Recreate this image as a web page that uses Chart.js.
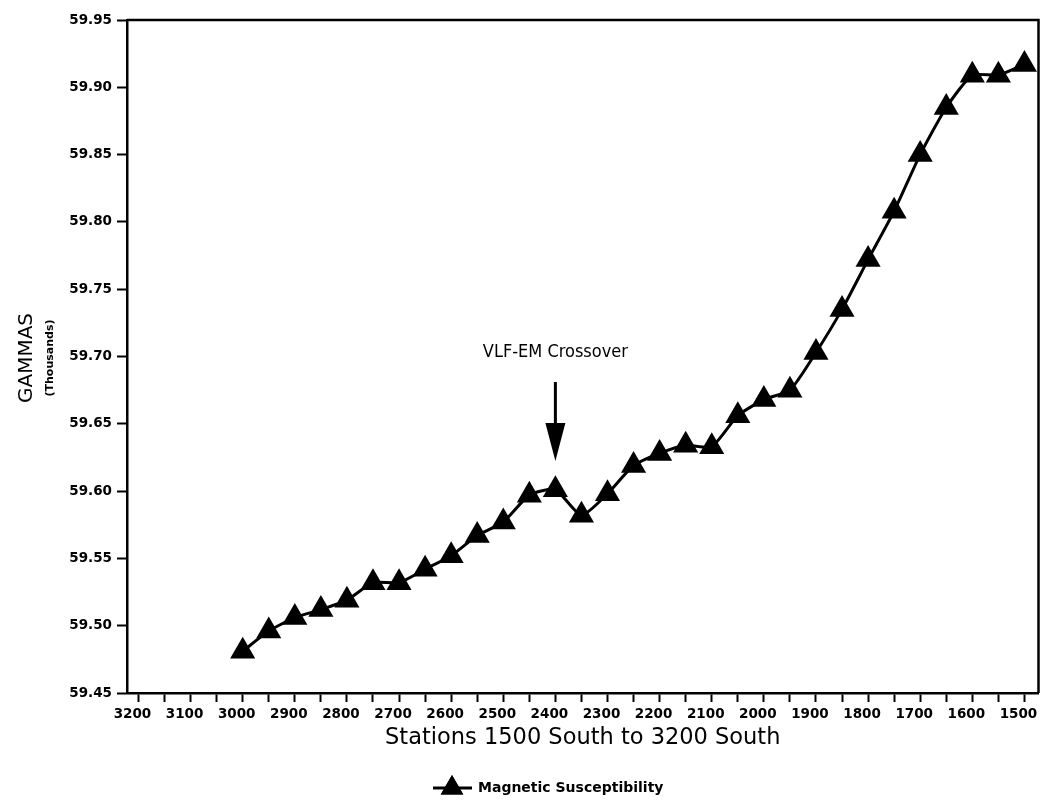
<!DOCTYPE html>
<html>
<head>
<meta charset="utf-8">
<script src="https://cdn.jsdelivr.net/npm/chart.js@4.4.0/dist/chart.umd.min.js"></script>
<style>
  html, body { margin: 0; padding: 0; background: #fff; }
</style>
</head>
<body>
<canvas id="chart" width="1053" height="804"></canvas>
<script>
// Magnetometer profile, stations 1500 S to 3200 S
const stations = [3000, 2950, 2900, 2850, 2800, 2750, 2700, 2650, 2600, 2550, 2500,
  2450, 2400, 2350, 2300, 2250, 2200, 2150, 2100, 2050, 2000, 1950, 1900, 1850,
  1800, 1750, 1700, 1650, 1600, 1550, 1500];
const gammas = [59.481, 59.496, 59.506, 59.512, 59.519, 59.532, 59.532, 59.542, 59.552,
  59.567, 59.577, 59.597, 59.601, 59.582, 59.598, 59.619, 59.628, 59.634, 59.633,
  59.656, 59.668, 59.675, 59.703, 59.735, 59.772, 59.808, 59.850, 59.885, 59.909,
  59.909, 59.917];
const xTicks = [3200, 3150, 3100, 3050, 3000, 2950, 2900, 2850, 2800, 2750, 2700, 2650,
  2600, 2550, 2500, 2450, 2400, 2350, 2300, 2250, 2200, 2150, 2100, 2050, 2000, 1950,
  1900, 1850, 1800, 1750, 1700, 1650, 1600, 1550, 1500];
const yTicks = [59.45, 59.50, 59.55, 59.60, 59.65, 59.70, 59.75, 59.80, 59.85, 59.90, 59.95];

const seriesName = "Magnetic Susceptibility";
const arrowStation = 2400;
const arrowText = "VLF-EM Crossover";

const FONT = "DejaVu Sans";

// box round the plot, crossover arrow, y title and legend
const extras = {
  id: "extras",
  afterDatasetsDraw(chart) {
    const { ctx, chartArea: a, scales } = chart;
    ctx.save();
    ctx.strokeStyle = "#000";
    ctx.lineWidth = 2.5;
    ctx.beginPath();
    ctx.moveTo(a.left, a.top);
    ctx.lineTo(a.right, a.top);
    ctx.lineTo(a.right, a.bottom);
    ctx.stroke();

    // crossover arrow
    const ax = scales.x.getPixelForValue(arrowStation);
    ctx.fillStyle = "#000";
    ctx.font = "18px 'DejaVu Sans Condensed'";
    ctx.textAlign = "center";
    ctx.textBaseline = "middle";
    ctx.fillText(arrowText, ax, 352);
    ctx.lineWidth = 3;
    ctx.beginPath();
    ctx.moveTo(ax, 382);
    ctx.lineTo(ax, 426);
    ctx.stroke();
    ctx.beginPath();
    ctx.moveTo(ax - 10, 423);
    ctx.lineTo(ax + 10, 423);
    ctx.lineTo(ax, 461);
    ctx.closePath();
    ctx.fill();

    // y title
    ctx.save();
    ctx.translate(27, 358);
    ctx.rotate(-Math.PI / 2);
    ctx.font = "20px " + FONT;
    ctx.fillText("GAMMAS", 0, 0);
    ctx.font = "bold 11px " + FONT;
    ctx.fillText("(Thousands)", 0, 23);
    ctx.restore();

    // legend
    const ly = 788;
    ctx.lineWidth = 3;
    ctx.beginPath();
    ctx.moveTo(433, ly);
    ctx.lineTo(472, ly);
    ctx.stroke();
    Chart.helpers.drawPoint(ctx, { pointStyle: "triangle", radius: 13, borderWidth: 0 }, 452, ly);
    ctx.fill();
    ctx.font = "bold 14px " + FONT;
    ctx.textAlign = "left";
    ctx.fillText(seriesName, 478, ly);
    ctx.restore();
  }
};

new Chart(document.getElementById("chart"), {
  type: "line",
  data: {
    datasets: [{
      label: seriesName,
      data: stations.map((s, i) => ({ x: s, y: gammas[i] })),
      borderColor: "#000",
      backgroundColor: "#000",
      borderWidth: 3,
      tension: 0.2,
      pointStyle: "triangle",
      pointRadius: 14.5,
      pointBorderWidth: 0,
      pointBackgroundColor: "#000",
      clip: false
    }]
  },
  options: {
    responsive: false,
    animation: false,
    layout: { padding: { top: 20, right: 11, bottom: 0, left: 0 } },
    plugins: {
      legend: { display: false },
      tooltip: { enabled: false }
    },
    scales: {
      x: {
        type: "linear",
        reverse: true,
        min: 1473,
        max: 3222,
        afterBuildTicks: (scale) => { scale.ticks = xTicks.map(v => ({ value: v })); },
        afterFit: (scale) => { scale.height = 111; },
        grid: { drawOnChartArea: false, drawTicks: true, tickLength: 9, tickWidth: 2, tickColor: "#000" },
        border: { display: true, color: "#000", width: 2.5 },
        ticks: {
          autoSkip: false,
          maxRotation: 0,
          padding: 4,
          labelOffset: -6,
          color: "#000",
          font: { family: FONT, size: 13.5, weight: "bold" },
          callback: (v) => (v % 100 === 0 ? String(v) : "")
        },
        title: {
          display: true,
          text: "Stations 1500 South to 3200 South",
          color: "#000",
          font: { family: FONT, size: 22.5 },
          padding: { top: 0, bottom: 52 }
        }
      },
      y: {
        min: 59.45,
        max: 59.95,
        afterBuildTicks: (scale) => { scale.ticks = yTicks.map(v => ({ value: v })); },
        afterFit: (scale) => { scale.width = 127; },
        grid: { drawOnChartArea: false, drawTicks: true, tickLength: 10, tickWidth: 2, tickColor: "#000" },
        border: { display: true, color: "#000", width: 2.5 },
        ticks: {
          padding: 5,
          color: "#000",
          font: { family: FONT, size: 13.5, weight: "bold" },
          callback: (v) => v.toFixed(2)
        }
      }
    }
  },
  plugins: [extras]
});
</script>
</body>
</html>
